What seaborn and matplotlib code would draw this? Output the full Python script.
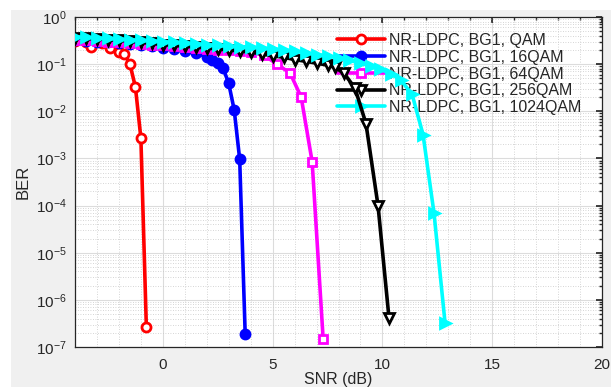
import numpy as np
import pandas as pd
import matplotlib
matplotlib.use("Agg")
import matplotlib.pyplot as plt
import matplotlib.ticker as mticker
from matplotlib.patches import Rectangle
import seaborn as sns

# ---- BER curves (SNR in dB) ----
snr_qam = [-4.0, -3.5, -3.25, -2.75, -2.4, -2.0, -1.75, -1.5, -1.25, -1.0, -0.75]
ber_qam = [0.31, 0.30, 0.23, 0.285, 0.22, 0.18, 0.165, 0.10, 0.033, 0.0027, 2.6e-7]

snr_16 = [-4.0, -3.5, -3.0, -2.5, -2.0, -1.5, -1.0, -0.5, 0.0, 0.5, 1.0, 1.5, 2.0,
          2.25, 2.5, 2.75, 3.0, 3.25, 3.5, 3.75]
ber_16 = [0.32, 0.31, 0.30, 0.29, 0.28, 0.27, 0.255, 0.24, 0.22, 0.205, 0.19, 0.17, 0.145,
          0.125, 0.105, 0.081, 0.039, 0.0107, 9.6e-4, 1.9e-7]

snr_64 = [-4.0, -3.5, -3.0, -2.5, -2.0, -1.5, -1.0, -0.5, 0.0, 0.5, 1.0, 1.5, 2.0, 2.5,
          3.0, 3.5, 4.0, 4.6, 5.2, 5.8, 6.3, 6.8, 7.3]
ber_64 = [0.33, 0.32, 0.31, 0.30, 0.29, 0.28, 0.27, 0.26, 0.25, 0.24, 0.23, 0.22, 0.21,
          0.20, 0.195, 0.19, 0.18, 0.155, 0.10, 0.064, 0.02, 8.5e-4, 1.5e-7]

snr_256 = [-4.0, -3.5, -3.0, -2.5, -2.0, -1.5, -1.0, -0.5, 0.0, 0.5, 1.0, 1.5, 2.0, 2.5,
           3.0, 3.5, 4.0, 4.5, 5.0, 5.5, 6.0, 6.5, 7.0, 7.5, 7.85, 8.25, 8.75, 9.25,
           9.8, 10.3]
ber_256 = [0.36, 0.35, 0.34, 0.33, 0.32, 0.305, 0.29, 0.275, 0.26, 0.25, 0.24, 0.23, 0.22,
           0.21, 0.20, 0.19, 0.18, 0.165, 0.15, 0.14, 0.125, 0.115, 0.105, 0.095, 0.085,
           0.064, 0.031, 0.0055, 1.0e-4, 4.1e-7]

snr_1024 = [-4.0, -3.5, -3.0, -2.5, -2.0, -1.5, -1.0, -0.5, 0.0, 0.5, 1.0, 1.5, 2.0, 2.5,
            3.0, 3.5, 4.0, 4.5, 5.0, 5.5, 6.0, 6.5, 7.0, 7.5, 8.0, 8.5, 9.0, 9.5, 9.9,
            10.4, 10.85, 11.35, 11.85, 12.35, 12.85]
ber_1024 = [0.38, 0.37, 0.36, 0.35, 0.34, 0.33, 0.32, 0.31, 0.30, 0.29, 0.28, 0.27, 0.26,
            0.25, 0.24, 0.235, 0.23, 0.22, 0.21, 0.20, 0.19, 0.175, 0.16, 0.15, 0.135,
            0.12, 0.105, 0.09, 0.078, 0.062, 0.045, 0.023, 0.0032, 6.9e-5, 3.3e-7]

labels = ["NR-LDPC, BG1, QAM", "NR-LDPC, BG1, 16QAM", "NR-LDPC, BG1, 64QAM",
          "NR-LDPC, BG1, 256QAM", "NR-LDPC, BG1, 1024QAM"]
x_ticks = [0, 5, 10, 15, 20]

series = [
    (snr_qam, ber_qam, labels[0], "#ff0000", "o", "white", 6.5),
    (snr_16, ber_16, labels[1], "#0000ff", "o", "#0000ff", 6.5),
    (snr_64, ber_64, labels[2], "#ff00ff", "s", "white", 5.5),
    (snr_256, ber_256, labels[3], "#000000", "v", "white", 7.5),
    (snr_1024, ber_1024, labels[4], "#00ffff", ">", "#00ffff", 7.5),
]

sns.set_theme(style="white")
plt.rcParams["font.family"] = ["Liberation Sans", "DejaVu Sans"]
plt.rcParams["mathtext.fontset"] = "custom"
plt.rcParams["mathtext.rm"] = "Liberation Sans"

fig = plt.figure(figsize=(6.11, 3.87), dpi=100, facecolor="white")
fig.patches.append(Rectangle((11 / 611, 0), 1 - 11 / 611, 1 - 10 / 387,
                             transform=fig.transFigure, facecolor="#f0f0f0",
                             edgecolor="none", zorder=-10))
ax = fig.add_axes([75 / 611, 40 / 387, 527 / 611, 330 / 387])
ax.set_facecolor("white")

for snr, ber, lab, col, mk, face, ms in series:
    df = pd.DataFrame({"SNR": snr, "BER": ber})
    sns.lineplot(data=df, x="SNR", y="BER", ax=ax, color=col, linewidth=2.6,
                 marker=mk, markersize=ms, markerfacecolor=face,
                 markeredgecolor=col, markeredgewidth=2.0, label=lab,
                 sort=False, estimator=None, zorder=3)

ax.set_yscale("log")
ax.set_xlim(-4, 20)
ax.set_ylim(1e-7, 1)
ax.set_xticks(x_ticks)
ax.xaxis.set_minor_locator(mticker.MultipleLocator(1))
ax.xaxis.set_minor_formatter(mticker.NullFormatter())
ax.yaxis.set_major_locator(mticker.LogLocator(base=10, numticks=10))
ax.yaxis.set_minor_locator(mticker.LogLocator(base=10, subs=np.arange(2, 10), numticks=20))
ax.yaxis.set_minor_formatter(mticker.NullFormatter())

ax.grid(True, which="major", color="#dcdcdc", linewidth=0.8, linestyle="-")
ax.grid(True, which="minor", color="#c8c8c8", linewidth=0.6, linestyle=(0, (1, 2)))
ax.set_axisbelow(True)

for s in ax.spines.values():
    s.set_color("#262626")
    s.set_linewidth(0.9)
ax.tick_params(which="both", direction="in", top=True, right=True,
               colors="#262626", labelsize=11)
ax.tick_params(which="major", length=4)
ax.tick_params(which="minor", length=2)
ax.tick_params(axis="x", which="major", pad=8)
ax.tick_params(axis="y", which="major", pad=6)

ax.set_xlabel("SNR (dB)", fontsize=11.5, color="#262626", labelpad=0)
ax.set_ylabel("BER", fontsize=12, color="#262626", labelpad=4)

leg = ax.legend(loc="upper left", bbox_to_anchor=((337 - 75) / 527, (347 - 33) / 330),
                frameon=False, fontsize=11.5, handlelength=3.0, handletextpad=0.25,
                labelspacing=0.11, borderaxespad=0, borderpad=0)
for t in leg.get_texts():
    t.set_color("#262626")
leg.set_zorder(2)

fig.savefig("out.png", dpi=100, facecolor=fig.get_facecolor())
